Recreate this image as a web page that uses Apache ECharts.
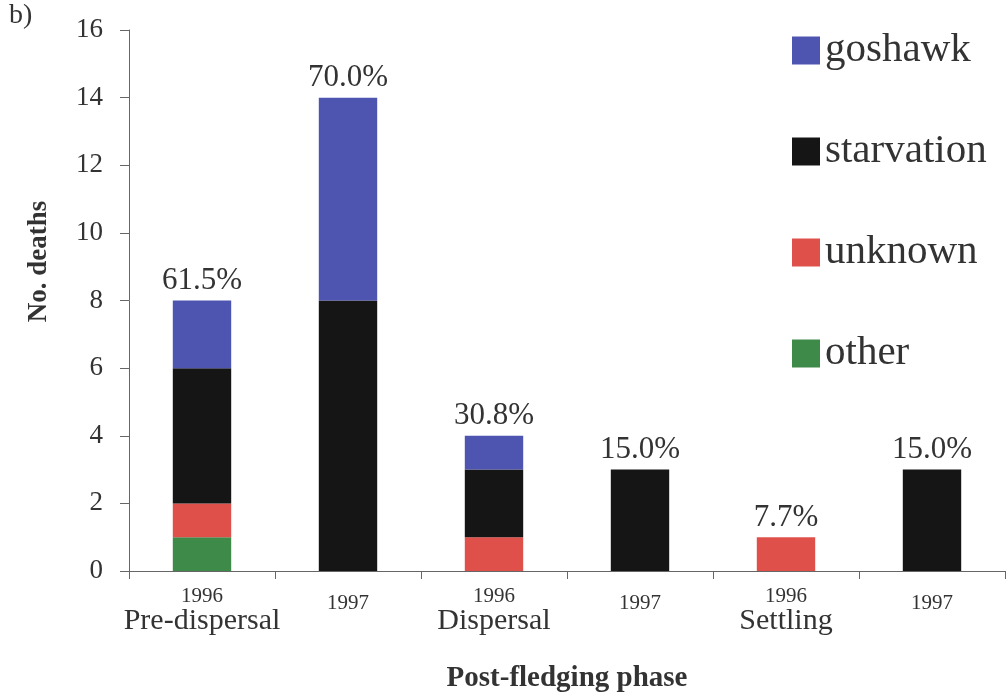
<!DOCTYPE html>
<html><head><meta charset="utf-8">
<script src="https://cdn.jsdelivr.net/npm/echarts@6/dist/echarts.min.js"></script>
<style>html,body{margin:0;padding:0;background:#fff}#c{width:1008px;height:698px}</style>
</head><body><div id="c"></div>
<script>
var years = ['1996','1997','1996','1997','1996','1997'];
var phases = ['Pre-dispersal','','Dispersal','','Settling',''];
var goshawk = [2, 6, 1, 0, 0, 0];
var starvation = [4, 8, 2, 3, 0, 3];
var unknown = [1, 0, 1, 0, 1, 0];
var other = [1, 0, 0, 0, 0, 0];
var percents = ['61.5%','70.0%','30.8%','15.0%','7.7%','15.0%'];
var yTicks = [0, 2, 4, 6, 8, 10, 12, 14, 16];

var cats = years.map(function(y, i){ return i; });
var serif = '"Liberation Serif", "DejaVu Serif", serif';
var chart = echarts.init(document.getElementById('c'), null, {renderer:'canvas'});
function bar(name, data, color){
  return {name:name, type:'bar', stack:'s', data:data, barWidth:'40%',
    itemStyle:{color:color}, emphasis:{disabled:true}};
}
var opt = {
  animation:false,
  backgroundColor:'#fff',
  textStyle:{fontFamily:serif},
  grid:{left:129, right:3, top:30, bottom:126},
  graphic:[{type:'text', left:9, top:2, style:{text:'b)', font:'28px ' + serif, fill:'#333'}}],
  legend:{
    data:['goshawk','starvation','unknown','other'],
    orient:'vertical', left:787, top:25, itemWidth:28, itemHeight:28, itemGap:60,
    icon:'rect',
    textStyle:{fontFamily:serif, fontSize:41, color:'#333', lineHeight:28, padding:[0,0,0,0]}
  },
  xAxis:{
    type:'category', data:cats,
    axisLine:{lineStyle:{color:'#666', width:1}},
    axisTick:{show:true, length:8, lineStyle:{color:'#666'}},
    axisLabel:{
      margin:14, interval:0, color:'#333', fontFamily:serif,
      formatter:function(v){
        var i = +v;
        if (phases[i]) return '{y|' + years[i] + '}\n{p|' + phases[i] + '}';
        return '{y2|' + years[i] + '}';
      },
      rich:{
        y:{fontSize:21, fontFamily:serif, color:'#333', lineHeight:22},
        y2:{fontSize:21, fontFamily:serif, color:'#333', lineHeight:22, padding:[14,0,0,0]},
        p:{fontSize:30, fontFamily:serif, color:'#333', lineHeight:28}
      }
    },
    name:'Post-fledging phase', nameLocation:'middle', nameGap:93,
    nameTextStyle:{fontFamily:serif, fontWeight:'bold', fontSize:29, color:'#333'}
  },
  yAxis:{
    type:'value', min:0, max:16, interval:2,
    splitLine:{show:false},
    axisLine:{show:true, lineStyle:{color:'#666'}},
    axisTick:{show:true, length:9, lineStyle:{color:'#666'}},
    axisLabel:{margin:26, fontSize:27, color:'#333', fontFamily:serif,
      formatter:function(v){ return yTicks.indexOf(v) >= 0 ? String(v) : ''; }},
    name:'No. deaths', nameLocation:'middle', nameGap:76,
    nameTextStyle:{fontFamily:serif, fontWeight:'bold', fontSize:27, color:'#333', padding:[0,0,0,78]}
  },
  series:[
    bar('other', other, '#3E8A48'),
    bar('unknown', unknown, '#E0504A'),
    bar('starvation', starvation, '#151515'),
    bar('goshawk', goshawk, '#4E55B0'),
    {name:'total', type:'bar', stack:'s', barWidth:'40%', data:years.map(function(){return 0;}),
      itemStyle:{color:'transparent'}, emphasis:{disabled:true},
      label:{show:true, position:'top', distance:4, fontSize:31, color:'#333', fontFamily:serif,
        formatter:function(p){ return percents[p.dataIndex]; }}}
  ]
};
chart.setOption(opt);
</script></body></html>
